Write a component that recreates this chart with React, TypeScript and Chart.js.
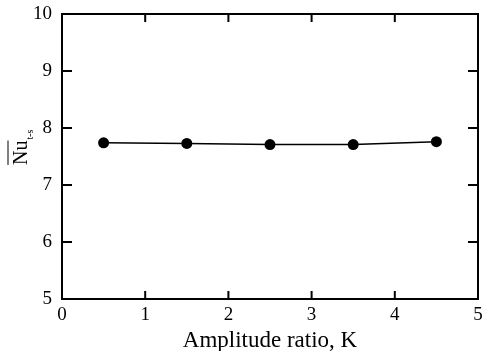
import React, { useEffect, useRef } from "react";
import { Chart, registerables } from "chart.js";

Chart.register(...registerables);

const amplitudeRatio = [0.5, 1.5, 2.5, 3.5, 4.5];
const nusselt = [7.74, 7.73, 7.71, 7.71, 7.76];
const xTickValues = [0, 1, 2, 3, 4, 5];
const yTickValues = [5, 6, 7, 8, 9, 10];
const xTitle = "Amplitude ratio, K";
const yTitleMain = "Nu";
const yTitleSub = "t-s";

const SERIF = "'Liberation Serif', 'Times New Roman', serif";

const framePlugin = {
  id: "framePlugin",
  afterDraw(chart: any) {
    const { ctx, chartArea } = chart;
    const { left, right, top, bottom } = chartArea;
    const xs = chart.scales.x;
    const ys = chart.scales.y;
    ctx.save();
    ctx.strokeStyle = "#000";
    ctx.lineWidth = 2;
    ctx.strokeRect(left, top, right - left, bottom - top);
    xTickValues.slice(1, -1).forEach((v) => {
      const px = xs.getPixelForValue(v);
      ctx.beginPath();
      ctx.moveTo(px, bottom);
      ctx.lineTo(px, bottom - 8);
      ctx.moveTo(px, top);
      ctx.lineTo(px, top + 8);
      ctx.stroke();
    });
    yTickValues.slice(1, -1).forEach((v) => {
      const py = ys.getPixelForValue(v);
      ctx.beginPath();
      ctx.moveTo(left, py);
      ctx.lineTo(left + 10, py);
      ctx.moveTo(right, py);
      ctx.lineTo(right - 10, py);
      ctx.stroke();
    });
    // y-axis title: rotated Nu with overline and subscript
    ctx.translate(27, 165);
    ctx.rotate(-Math.PI / 2);
    ctx.fillStyle = "#000";
    ctx.font = `20px ${SERIF}`;
    ctx.textBaseline = "alphabetic";
    ctx.textAlign = "left";
    ctx.fillText(yTitleMain, 0, 0);
    const w = ctx.measureText(yTitleMain).width;
    ctx.lineWidth = 1;
    ctx.beginPath();
    ctx.moveTo(0, -19);
    ctx.lineTo(w, -19);
    ctx.stroke();
    ctx.font = `10px ${SERIF}`;
    ctx.fillText(yTitleSub, w + 1, 6);
    ctx.restore();
  },
};

export default function App() {
  const canvasRef = useRef<HTMLCanvasElement | null>(null);

  useEffect(() => {
    const canvas = canvasRef.current;
    if (!canvas) return;
    const chart = new Chart(canvas, {
      type: "line",
      data: {
        datasets: [
          {
            data: amplitudeRatio.map((x, i) => ({ x, y: nusselt[i] })),
            borderColor: "#000",
            backgroundColor: "#000",
            borderWidth: 1.5,
            pointRadius: 5.5,
            pointBackgroundColor: "#000",
            pointBorderColor: "#000",
            pointBorderWidth: 0,
            tension: 0,
          },
        ],
      },
      options: {
        animation: false,
        responsive: false,
        layout: { padding: { top: 14, right: 6, left: 0, bottom: 0 } },
        plugins: { legend: { display: false }, tooltip: { enabled: false } },
        scales: {
          x: {
            type: "linear",
            min: 0,
            max: 5,
            afterBuildTicks: (scale: any) => {
              scale.ticks = xTickValues.map((v) => ({ value: v }));
            },
            afterFit: (scale: any) => {
              scale.height = 52;
              scale.paddingLeft = 0;
              scale.paddingRight = 0;
            },
            grid: { display: false, drawTicks: false },
            border: { display: false },
            ticks: {
              color: "#000",
              padding: 5,
              font: { family: SERIF, size: 19 },
              maxRotation: 0,
              autoSkip: false,
            },
            title: {
              display: true,
              text: xTitle,
              color: "#000",
              font: { family: SERIF, size: 23 },
              padding: { top: 0, bottom: -4 },
            },
          },
          y: {
            type: "linear",
            min: 5,
            max: 10,
            afterBuildTicks: (scale: any) => {
              scale.ticks = yTickValues.map((v) => ({ value: v }));
            },
            afterFit: (scale: any) => {
              scale.width = 62;
              scale.paddingTop = 0;
              scale.paddingBottom = 0;
            },
            grid: { display: false, drawTicks: false },
            border: { display: false },
            ticks: {
              color: "#000",
              padding: 10,
              font: { family: SERIF, size: 19 },
              autoSkip: false,
            },
          },
        },
      },
      plugins: [framePlugin],
    } as any);
    return () => chart.destroy();
  }, []);

  return (
    <div style={{ position: "absolute", left: 0, top: 0, width: 484, height: 351, background: "#fff" }}>
      <canvas ref={canvasRef} width={484} height={351} />
    </div>
  );
}
